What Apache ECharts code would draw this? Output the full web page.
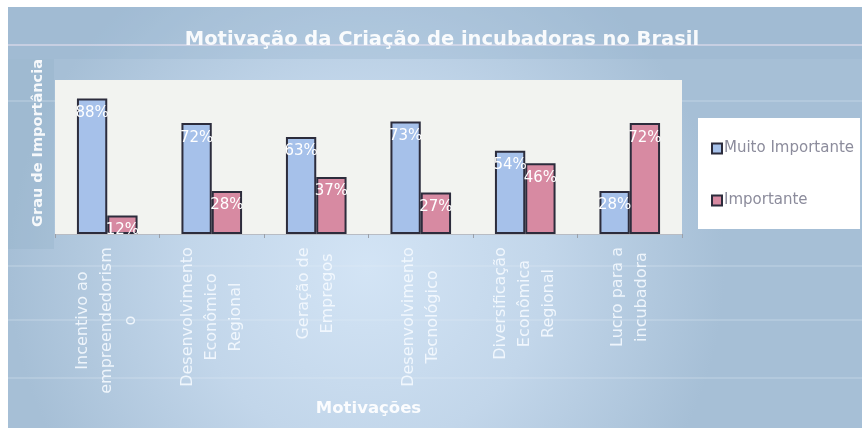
<!DOCTYPE html>
<html>
<head>
<meta charset="utf-8">
<script src="https://cdn.jsdelivr.net/npm/echarts@6/dist/echarts.min.js"></script>
<style>
  html, body { margin: 0; padding: 0; background: #ffffff; }
  #chart { width: 862px; height: 429px; }
</style>
</head>
<body>
<div id="chart"></div>
<script>
// Motivations for creating incubators in Brazil, share of answers per degree of importance (%)
const categories = [
  'Incentivo ao\nempreendedorism\no',
  'Desenvolvimento\nEconômico\nRegional',
  'Geração de\nEmpregos',
  'Desenvolvimento\nTecnológico',
  'Diversificação\nEconômica\nRegional',
  'Lucro para a\nincubadora'
];
const seriesNames = ['Muito Importante', 'Importante'];
const muitoImportante = [88, 72, 63, 73, 54, 28];
const importante = [12, 28, 37, 27, 46, 72];

const FONT = '"DejaVu Sans", sans-serif';
const labelSize = 16;

// Width of the longest line of each category name, so the lines can be centred on each other
const measureCtx = document.createElement('canvas').getContext('2d');
measureCtx.font = labelSize + 'px ' + FONT;
const richStyles = {};
categories.forEach(function (name, i) {
  const w = Math.max.apply(null, name.split('\n').map(function (l) { return measureCtx.measureText(l).width; }));
  richStyles['c' + i] = {
    width: Math.ceil(w) + 2,
    align: 'center',
    fontSize: labelSize,
    lineHeight: 24,
    fontFamily: FONT,
    color: 'rgba(246,250,255,0.88)'
  };
});

const chart = echarts.init(document.getElementById('chart'), null, { renderer: 'canvas' });

// Faint horizontal streaks across the backdrop
const streakYs = [44, 100, 265, 319, 377];
const streaks = streakYs.map(function (y, i) {
  return {
    type: 'rect',
    z: -9,
    shape: { x: 8, y: y, width: 854, height: 2 },
    style: { fill: i === 0 ? 'rgba(238,228,242,0.5)' : 'rgba(228,238,248,0.22)' }
  };
});

const option = {
  backgroundColor: '#ffffff',
  animation: false,
  graphic: [
    {
      type: 'rect',
      z: -10,
      shape: { x: 8, y: 7, width: 854, height: 421 },
      style: {
        fill: new echarts.graphic.RadialGradient(0.42, 0.62, 0.85, [
          { offset: 0, color: '#d3e4f5' },
          { offset: 0.5, color: '#c2d6ea' },
          { offset: 1, color: '#a6bfd6' }
        ])
      }
    },
    {
      type: 'rect',
      z: -9,
      shape: { x: 8, y: 7, width: 854, height: 52 },
      style: { fill: 'rgba(150,180,205,0.3)' }
    },
    {
      type: 'rect',
      z: -9,
      shape: { x: 8, y: 59, width: 46, height: 190 },
      style: { fill: 'rgba(140,170,195,0.25)' }
    }
  ].concat(streaks),
  title: {
    text: 'Motivação da Criação de incubadoras no Brasil',
    left: 437,
    top: 25,
    textAlign: 'center',
    textStyle: {
      color: 'rgba(255,255,255,0.92)',
      fontSize: 19.5,
      fontWeight: 'bold',
      fontFamily: FONT
    }
  },
  legend: {
    orient: 'vertical',
    left: 698,
    top: 118,
    padding: [23, 6, 21, 13],
    itemGap: 37,
    itemWidth: 10,
    itemHeight: 10,
    icon: 'rect',
    backgroundColor: '#ffffff',
    textStyle: {
      color: '#8c8c9c',
      fontSize: 15,
      fontFamily: FONT,
      padding: [0, 0, 0, -3]
    },
    data: seriesNames
  },
  grid: {
    left: 55,
    right: 180,
    top: 80,
    bottom: 195,
    show: true,
    backgroundColor: '#f2f3f0',
    borderWidth: 0
  },
  xAxis: {
    type: 'category',
    data: categories,
    name: 'Motivações',
    nameLocation: 'middle',
    nameGap: 166,
    nameTextStyle: {
      color: 'rgba(255,255,255,0.92)',
      fontSize: 16.5,
      fontWeight: 'bold',
      fontFamily: FONT
    },
    axisLine: { lineStyle: { color: '#b8bcc4', width: 1 } },
    axisTick: { show: true, length: 4, lineStyle: { color: '#9aa0aa' } },
    axisLabel: {
      interval: 0,
      rotate: 90,
      margin: 12,
      formatter: function (value, index) {
        return value.split('\n').map(function (l) { return '{c' + index + '|' + l + '}'; }).join('\n');
      },
      rich: richStyles
    }
  },
  yAxis: {
    type: 'value',
    min: 0,
    max: 100,
    name: 'Grau de Importância',
    nameLocation: 'middle',
    nameRotate: 90,
    nameGap: 9,
    nameTextStyle: {
      color: 'rgba(255,255,255,0.9)',
      fontSize: 14.5,
      fontWeight: 'bold',
      fontFamily: FONT,
      padding: [0, 0, 0, 28]
    },
    axisLine: { show: false },
    axisTick: { show: false },
    axisLabel: { show: false },
    splitLine: { show: false }
  },
  series: [
    {
      name: seriesNames[0],
      type: 'bar',
      data: muitoImportante,
      barGap: '0%',
      barCategoryGap: '42%',
      itemStyle: { color: '#a6c1ea', borderColor: '#2c2c3c', borderWidth: 2 },
      label: {
        show: true,
        position: 'insideTop',
        distance: 7,
        formatter: '{c}%',
        color: '#ffffff',
        fontSize: 15,
        fontFamily: FONT
      }
    },
    {
      name: seriesNames[1],
      type: 'bar',
      data: importante,
      itemStyle: { color: '#d78aa2', borderColor: '#2c2c3c', borderWidth: 2 },
      label: {
        show: true,
        position: 'insideTop',
        distance: 7,
        formatter: '{c}%',
        color: '#ffffff',
        fontSize: 15,
        fontFamily: FONT
      }
    }
  ]
};

chart.setOption(option);
</script>
</body>
</html>
